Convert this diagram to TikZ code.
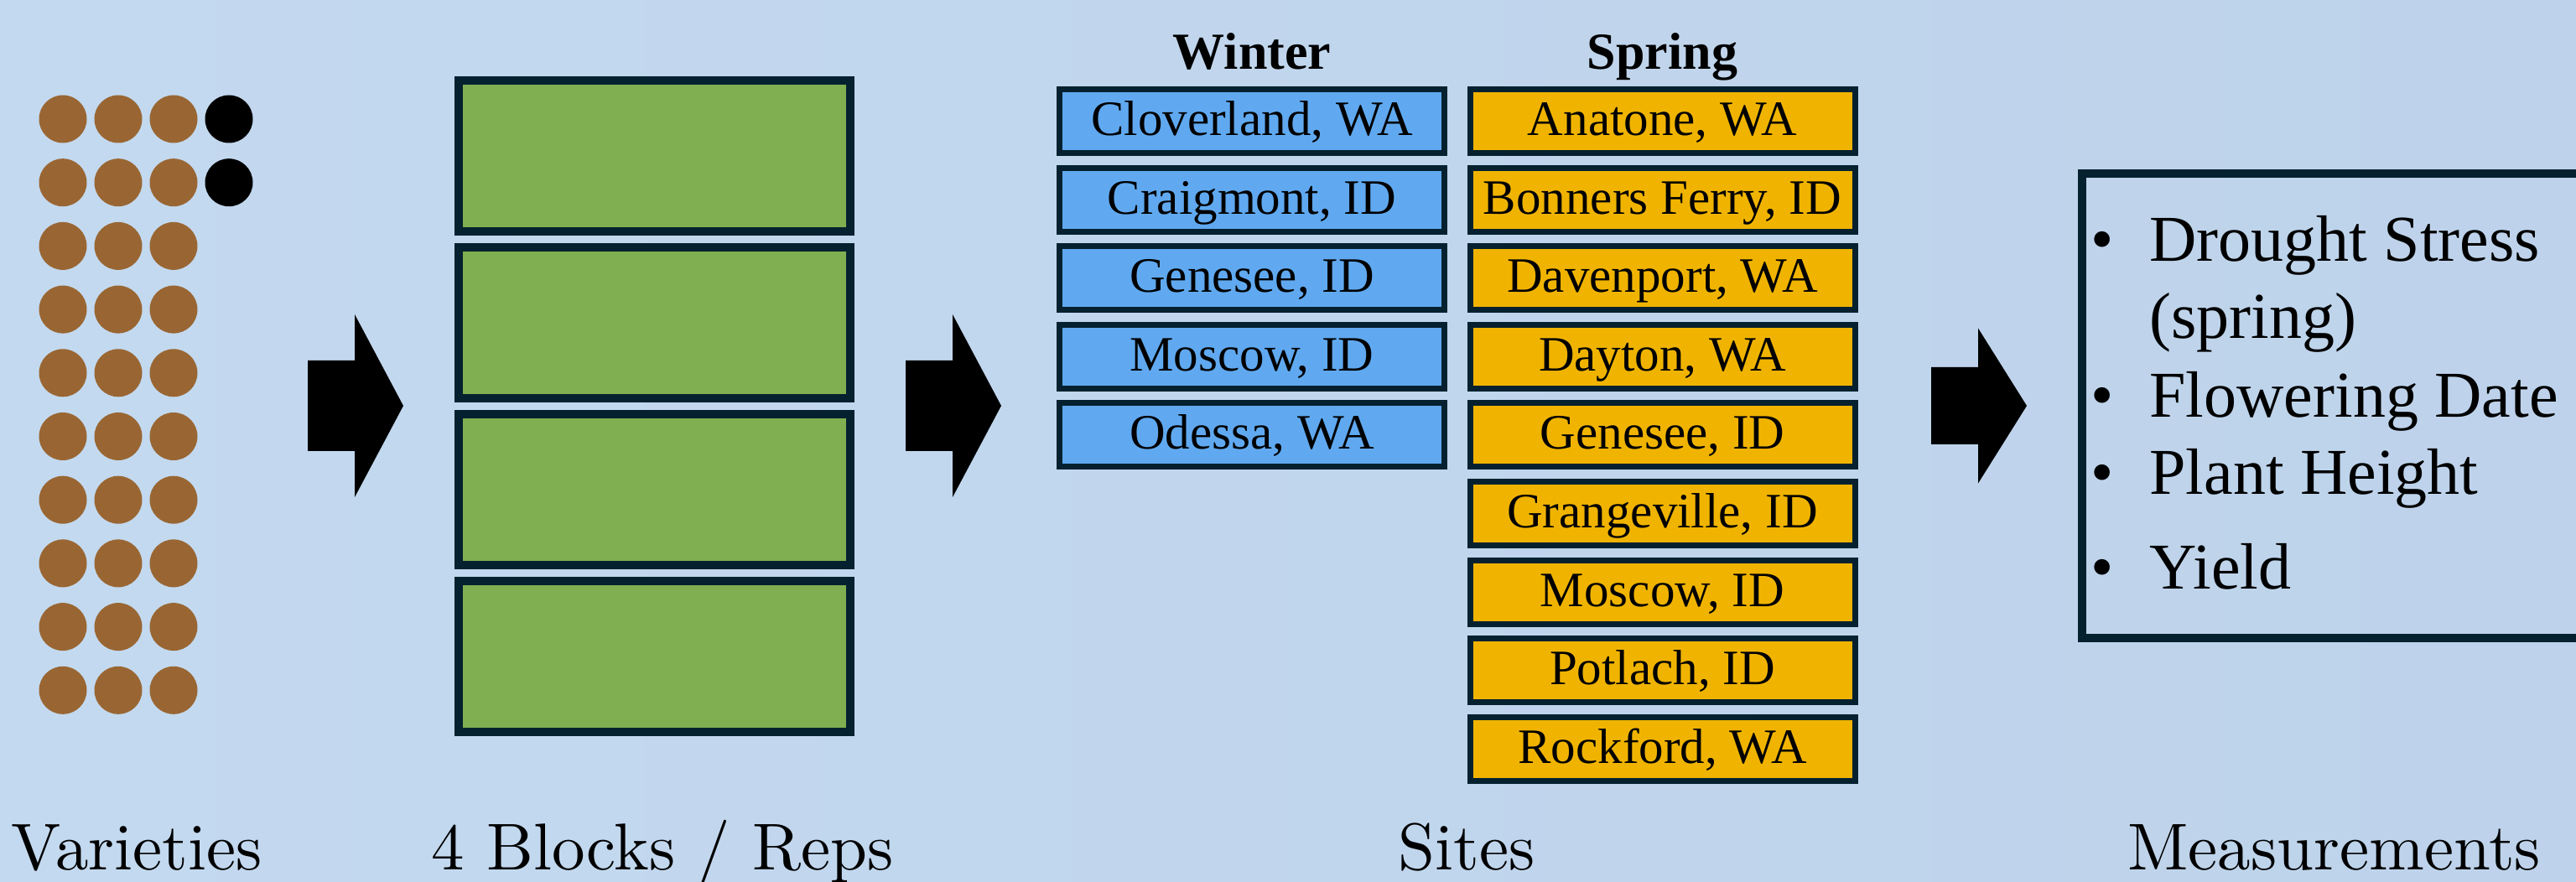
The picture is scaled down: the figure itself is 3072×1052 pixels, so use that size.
\documentclass[tikz,border=0pt]{standalone}
\usepackage{fontspec}
\newfontfamily\garafont{Liberation Serif}
\newfontfamily\lmten{lmroman10-regular.otf}
\usetikzlibrary{positioning}
\definecolor{bgleft}{HTML}{C6DCF2}
\definecolor{bgright}{HTML}{BBD0E8}
\definecolor{seedbrown}{HTML}{996633}
\definecolor{plotgreen}{HTML}{7FAF50}
\definecolor{winterblue}{HTML}{60A9F0}
\definecolor{springgold}{HTML}{F0B400}
\definecolor{edgenavy}{HTML}{05212F}
\pgfdeclarehorizontalshading{backdrop}{100bp}{color(0bp)=(bgleft); color(100bp)=(bgright)}

\begin{document}
\begin{tikzpicture}[x=0.5pt,y=-0.5pt,
		seed/.style={circle,fill=seedbrown,inner sep=0pt,minimum size=28.5pt},
		block/.style={draw=edgenavy,line width=5pt,fill=plotgreen,inner sep=0pt,minimum width=233.5pt,minimum height=90pt},
		site/.style={draw=edgenavy,line width=3.5pt,inner sep=0pt,minimum width=229.5pt,minimum height=38pt,
			font=\garafont\fontsize{29.5}{32}\selectfont,text height=19.5pt,text depth=2.4pt},
		season/.style={anchor=base,font=\garafont\bfseries\fontsize{31}{34}\selectfont},
		measbox/.style={draw=edgenavy,line width=5pt,inner sep=0pt,minimum width=318.5pt,minimum height=277pt},
		meas/.style={anchor=base west,inner sep=0pt,font=\garafont\fontsize{39}{42}\selectfont},
		dot/.style={anchor=base,inner sep=0pt,font=\garafont\fontsize{39}{42}\selectfont},
		caption/.style={anchor=base west,inner sep=0pt,font=\lmten\fontsize{39.5}{44}\selectfont}]
		\clip (0,0) rectangle (3072,1052);
		\shade[shading=backdrop] (0,0) rectangle (3072,1052);
		% varieties
		\foreach \r in {0,...,9}
			\foreach \c in {0,1,2}
				\node[seed] (v\r\c) at ({75+66*\c},{142+75.7*\r}) {};
		\node[seed,fill=black] (v03) at (273,142) {};
		\node[seed,fill=black] (v13) at (273,217.7) {};
		% blocks / reps
		\foreach \k in {1,...,4}
			\node[block] (rep\k) at (780.5,{186+199*(\k-1)}) {};
		% sites
		\node[season] (winter) at (1493,83) {Winter};
		\node[season] (spring) at (1982.5,83) {Spring};
		\foreach \name [count=\i] in {{Cloverland, WA},{Craigmont, ID},{Genesee, ID},{Moscow, ID},{Odessa, WA}}
			\node[site,fill=winterblue] (w\i) at (1493,{144.5+93.6*(\i-1)}) {\name};
		\foreach \name [count=\i] in {{Anatone, WA},{Bonners Ferry, ID},{Davenport, WA},{Dayton, WA},{Genesee, ID},
				{Grangeville, ID},{Moscow, ID},{Potlach, ID},{Rockford, WA}}
			\node[site,fill=springgold] (s\i) at (1982.5,{144.5+93.6*(\i-1)}) {\name};
		% measurements
		\node[measbox] (box) at (2801.5,484) {};
		\node[dot] (b1) at (2507,312) {•};
		\node[meas] (m1) at (2563,312) {Drought Stress};
		\node[meas] (m1b) at (2563,404) {(spring)};
		\node[dot] (b2) at (2507,498) {•};
		\node[meas] (m2) at (2563,498) {Flowering Date};
		\node[dot] (b3) at (2507,590) {•};
		\node[meas] (m3) at (2563,590) {Plant Height};
		\node[dot] (b4) at (2507,703) {•};
		\node[meas] (m4) at (2563,703) {Yield};
		% big arrows
		\foreach \x/\hs/\hh in {367/54/109,1080/54/109,2303/46/92.5}
			\fill[black] (\x,{484-\hs}) -- ({\x+56},{484-\hs}) -- ({\x+56},{484-\hh}) -- ({\x+114},484)
				-- ({\x+56},{484+\hh}) -- ({\x+56},{484+\hs}) -- (\x,{484+\hs}) -- cycle;
		% captions
		\node[caption] (cvar) at (13,1037) {Varieties};
		\node[caption] (crep) at (514,1037) {4 Blocks / Reps};
		\node[caption] (csite) at (1667,1037) {Sites};
		\node[caption] (cmeas) at (2537,1037) {Measurements};
\end{tikzpicture}
\end{document}
